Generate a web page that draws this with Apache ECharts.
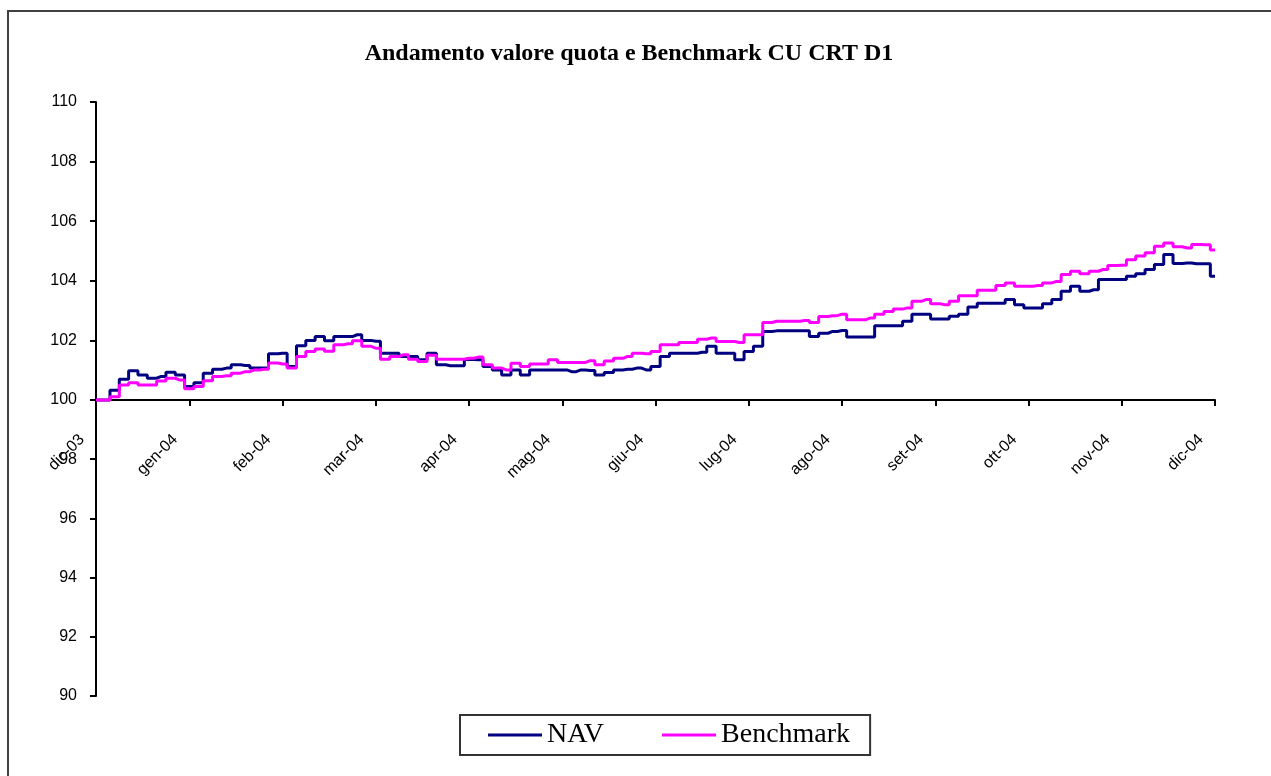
<!DOCTYPE html>
<html>
<head>
<meta charset="utf-8">
<title>Andamento valore quota e Benchmark CU CRT D1</title>
<script src="https://cdn.jsdelivr.net/npm/echarts@6/dist/echarts.min.js"></script>
<style>
    html, body { margin: 0; padding: 0; background: #fff; }
    #chart { width: 1271px; height: 776px; }
</style>
</head>
<body>
<div id="chart"></div>
<script>
    // month tick labels, one every PER_MONTH samples
    var monthLabels = ['dic-03', 'gen-04', 'feb-04', 'mar-04', 'apr-04', 'mag-04', 'giu-04',
        'lug-04', 'ago-04', 'set-04', 'ott-04', 'nov-04', 'dic-04'];
    var PER_MONTH = 10;
    // value axis: 90..110 step 2, the time axis crosses it at BASE
    var yTicks = [90, 92, 94, 96, 98, 100, 102, 104, 106, 108, 110];
    var BASE = 100;

    // NAV (10 samples per month)
    var navValues = [
        100.00, 100.00, 100.33, 100.70, 100.98, 100.84, 100.73, 100.79, 100.93, 100.84,
        100.45, 100.58, 100.90, 101.03, 101.07, 101.18, 101.16, 101.07, 101.07, 101.55,
        101.57, 101.12, 101.82, 102.00, 102.13, 101.99, 102.13, 102.13, 102.19, 102.00,
        101.97, 101.57, 101.57, 101.46, 101.46, 101.35, 101.57, 101.18, 101.15, 101.15,
        101.36, 101.35, 101.12, 101.01, 100.84, 101.01, 100.84, 101.01, 101.01, 101.01,
        101.01, 100.95, 101.01, 100.99, 100.84, 100.92, 101.01, 101.03, 101.07, 101.01,
        101.12, 101.46, 101.57, 101.57, 101.57, 101.60, 101.80, 101.57, 101.57, 101.35,
        101.63, 101.80, 102.30, 102.32, 102.32, 102.32, 102.32, 102.13, 102.24, 102.30,
        102.33, 102.11, 102.11, 102.11, 102.49, 102.49, 102.49, 102.64, 102.88, 102.88,
        102.72, 102.72, 102.81, 102.88, 103.12, 103.25, 103.25, 103.25, 103.37, 103.20,
        103.09, 103.09, 103.23, 103.37, 103.65, 103.82, 103.65, 103.70, 104.04, 104.04,
        104.04, 104.15, 104.24, 104.38, 104.55, 104.88, 104.58, 104.60, 104.57, 104.57,
        104.15
    ];

    // Benchmark
    var benchmarkValues = [
        100.00, 100.00, 100.11, 100.50, 100.58, 100.50, 100.50, 100.64, 100.73, 100.67,
        100.38, 100.45, 100.65, 100.79, 100.81, 100.90, 100.95, 101.01, 101.03, 101.24,
        101.21, 101.07, 101.46, 101.63, 101.71, 101.64, 101.85, 101.89, 101.99, 101.80,
        101.74, 101.37, 101.46, 101.52, 101.37, 101.29, 101.50, 101.37, 101.37, 101.37,
        101.40, 101.44, 101.18, 101.07, 101.01, 101.23, 101.12, 101.21, 101.21, 101.35,
        101.26, 101.26, 101.26, 101.32, 101.18, 101.31, 101.40, 101.46, 101.57, 101.55,
        101.63, 101.85, 101.85, 101.93, 101.93, 102.04, 102.08, 101.96, 101.96, 101.93,
        102.19, 102.19, 102.60, 102.64, 102.64, 102.64, 102.67, 102.60, 102.80, 102.83,
        102.88, 102.69, 102.69, 102.75, 102.88, 102.97, 103.05, 103.09, 103.31, 103.37,
        103.23, 103.20, 103.31, 103.50, 103.50, 103.68, 103.68, 103.84, 103.93, 103.82,
        103.82, 103.84, 103.93, 103.98, 104.21, 104.32, 104.24, 104.32, 104.38, 104.51,
        104.52, 104.71, 104.83, 104.94, 105.16, 105.27, 105.14, 105.10, 105.22, 105.21,
        105.03
    ];

    /**
     * [months since dic-03, value]
     * @param values
     */
    function toPoints(values) {
        return values.map(function (v, i) {
            return [i / PER_MONTH, v];
        });
    }

    var axisLineStyle = {color: '#000', width: 2};
    var yLabel = {
        margin: 19,
        fontFamily: 'Liberation Sans',
        fontSize: 16,
        color: '#000'
    };

    var chart = echarts.init(document.getElementById('chart'), null, {renderer: 'canvas'});

    var option = {
        backgroundColor: '#ffffff',
        animation: false,
        title: {
            text: 'Andamento valore quota e Benchmark CU CRT D1',
            left: 629,
            top: 42,
            textAlign: 'center',
            padding: 0,
            textStyle: {
                fontFamily: 'Liberation Serif',
                fontWeight: 'bold',
                fontSize: 24,
                color: '#000'
            }
        },
        legend: {
            left: 460,
            top: 715,
            padding: [6, 20, 6, 28],
            borderColor: '#333',
            borderWidth: 2,
            itemWidth: 54,
            itemHeight: 3,
            itemGap: 58,
            icon: 'rect',
            textStyle: {
                fontFamily: 'Liberation Serif',
                fontSize: 28,
                color: '#000'
            },
            data: ['NAV', 'Benchmark']
        },
        graphic: [{
            // outer frame of the picture
            type: 'rect',
            silent: true,
            shape: {x: 8, y: 11, width: 1300, height: 800},
            style: {fill: 'none', stroke: '#404040', lineWidth: 2}
        }],
        // upper grid holds the lines, lower grid only continues the value axis down to 90
        grid: [
            {left: 96, right: 56, top: 102, bottom: 376},
            {left: 96, right: 56, top: 400, bottom: 80}
        ],
        xAxis: [{
            type: 'value',
            gridIndex: 0,
            min: 0,
            max: monthLabels.length - 1,
            interval: 1,
            splitLine: {show: false},
            axisLine: {lineStyle: axisLineStyle},
            axisTick: {show: true, length: 6, lineStyle: axisLineStyle},
            axisLabel: {
                rotate: 45,
                margin: 23,
                padding: [0, 20, 0, 0],
                showMinLabel: true,
                showMaxLabel: true,
                fontFamily: 'Liberation Sans',
                fontSize: 16,
                color: '#000',
                formatter: function (v) {
                    return monthLabels[Math.round(v)] || '';
                }
            }
        }, {
            type: 'value',
            gridIndex: 1,
            min: 0,
            max: monthLabels.length - 1,
            show: false
        }],
        yAxis: [{
            type: 'value',
            gridIndex: 0,
            min: BASE,
            max: yTicks[yTicks.length - 1],
            interval: yTicks[1] - yTicks[0],
            splitLine: {show: false},
            axisLine: {show: true, lineStyle: axisLineStyle},
            axisTick: {show: true, length: 6, lineStyle: axisLineStyle},
            axisLabel: yLabel
        }, {
            type: 'value',
            gridIndex: 1,
            min: yTicks[0],
            max: BASE,
            interval: yTicks[1] - yTicks[0],
            splitLine: {show: false},
            axisLine: {show: true, lineStyle: axisLineStyle},
            axisTick: {show: true, length: 6, lineStyle: axisLineStyle},
            axisLabel: Object.assign({showMaxLabel: false}, yLabel)
        }],
        series: [{
            name: 'NAV',
            type: 'line',
            xAxisIndex: 0,
            yAxisIndex: 0,
            step: 'middle',
            clip: false,
            showSymbol: false,
            data: toPoints(navValues),
            itemStyle: {color: '#000080'},
            lineStyle: {color: '#000080', width: 3}
        }, {
            name: 'Benchmark',
            type: 'line',
            xAxisIndex: 0,
            yAxisIndex: 0,
            step: 'middle',
            clip: false,
            showSymbol: false,
            data: toPoints(benchmarkValues),
            itemStyle: {color: '#ff00ff'},
            lineStyle: {color: '#ff00ff', width: 3}
        }]
    };

    chart.setOption(option);
</script>
</body>
</html>
